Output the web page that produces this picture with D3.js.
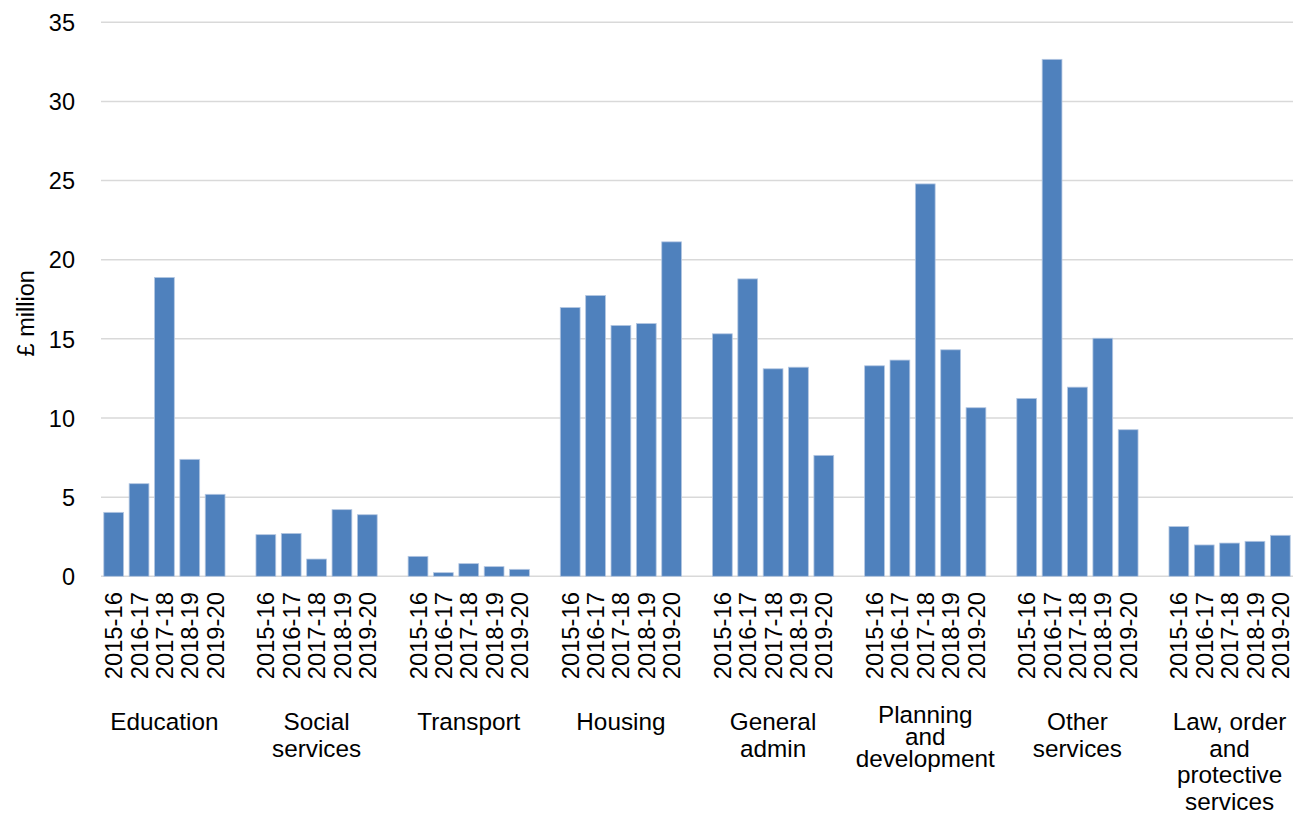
<!DOCTYPE html>
<html>
<head>
<meta charset="utf-8">
<script src="https://cdn.jsdelivr.net/npm/d3@7"></script>
<style>
  html, body { margin: 0; padding: 0; background: #fff; }
  svg { display: block; font-family: "Liberation Sans", Arial, sans-serif; }
</style>
</head>
<body>
<svg id="chart" width="1300" height="814"></svg>
<script>
const categories = ["Education", "Social services", "Transport", "Housing", "General admin", "Planning and development", "Other services", "Law, order and protective services"];
const categoryLines = [["Education"], ["Social", "services"], ["Transport"], ["Housing"], ["General", "admin"], ["Planning", "and", "development"], ["Other", "services"], ["Law, order", "and", "protective", "services"]];
const years = ["2015-16", "2016-17", "2017-18", "2018-19", "2019-20"];
const education = [4.04, 5.85, 18.88, 7.39, 5.18];
const socialServices = [2.63, 2.71, 1.09, 4.21, 3.89];
const transport = [1.26, 0.23, 0.80, 0.61, 0.44];
const housing = [16.98, 17.74, 15.85, 15.97, 21.13];
const generalAdmin = [15.32, 18.79, 13.11, 13.21, 7.64];
const planning = [13.30, 13.66, 24.79, 14.31, 10.65];
const otherServices = [11.24, 32.66, 11.95, 15.04, 9.26];
const lawOrder = [3.14, 1.98, 2.10, 2.21, 2.59];
const yTicks = [0, 5, 10, 15, 20, 25, 30, 35];
const yTitle = "£ million";

const seriesByCategory = [education, socialServices, transport, housing, generalAdmin, planning, otherServices, lawOrder];

const svg = d3.select("#chart");
const plotLeft = 101, plotRight = 1293, plotTop = 22.3, plotBottom = 576.3;

// slots: 5 bars per group, one blank slot between groups
const slots = [];
const bars = [];
categories.forEach((c, gi) => {
  years.forEach((yr, yi) => {
    const key = c + "|" + yr;
    slots.push(key);
    bars.push({ key, cat: c, gi, year: yr, value: seriesByCategory[gi][yi] });
  });
  if (gi < categories.length - 1) slots.push("gap" + gi);
});

const x = d3.scaleBand().domain(slots).range([plotLeft, plotRight]).paddingInner(0.22).paddingOuter(0.11);
const y = d3.scaleLinear().domain([0, 35]).range([plotBottom, plotTop]);

// gridlines
svg.append("g")
  .selectAll("line")
  .data(yTicks)
  .join("line")
  .attr("x1", plotLeft).attr("x2", plotRight)
  .attr("y1", d => y(d)).attr("y2", d => y(d))
  .attr("stroke", "#d9d9d9")
  .attr("stroke-width", 1.5);

// y axis labels
const yAxis = d3.axisLeft(y).tickValues(yTicks).tickSize(0).tickPadding(0);
const yg = svg.append("g").attr("transform", `translate(${plotLeft - 26},0)`).call(yAxis);
yg.select(".domain").remove();
yg.selectAll("text")
  .attr("font-size", 23.5)
  .attr("font-family", "Liberation Sans, Arial, sans-serif")
  .attr("fill", "#000")
  .attr("dy", "0.35em");

// y title
svg.append("text")
  .attr("transform", `translate(34,${(plotTop + plotBottom) / 2 + 14}) rotate(-90)`)
  .attr("text-anchor", "middle")
  .attr("font-size", 23.5)
  .attr("fill", "#000")
  .text(yTitle);

// bars
svg.append("g")
  .selectAll("rect")
  .data(bars)
  .join("rect")
  .attr("x", d => x(d.key))
  .attr("width", x.bandwidth())
  .attr("y", d => y(d.value))
  .attr("height", d => y(0) - y(d.value))
  .attr("fill", "#4f81bd")
  .attr("stroke", "#b4c7e2")
  .attr("stroke-width", 0.8);

// year labels (rotated)
const xg = svg.append("g");
xg.selectAll("text")
  .data(bars)
  .join("text")
  .attr("transform", d => `translate(${x(d.key) + x.bandwidth() / 2},592) rotate(-90)`)
  .attr("text-anchor", "end")
  .attr("dy", "0.36em")
  .attr("font-size", 23.8)
  .attr("fill", "#000")
  .text(d => d.year);

// category labels
categories.forEach((c, gi) => {
  const first = x(c + "|" + years[0]);
  const last = x(c + "|" + years[years.length - 1]) + x.bandwidth();
  const cx = (first + last) / 2;
  const lines = categoryLines[gi];
  const gap = lines.length === 3 ? 22 : 26.5;
  const baseY = lines.length === 3 ? 723 : 730;
  const t = svg.append("text")
    .attr("text-anchor", "middle")
    .attr("font-size", 24.3)
    .attr("fill", "#000");
  lines.forEach((ln, li) => {
    t.append("tspan").attr("x", cx).attr("y", baseY + li * gap).text(ln);
  });
});
</script>
</body>
</html>
